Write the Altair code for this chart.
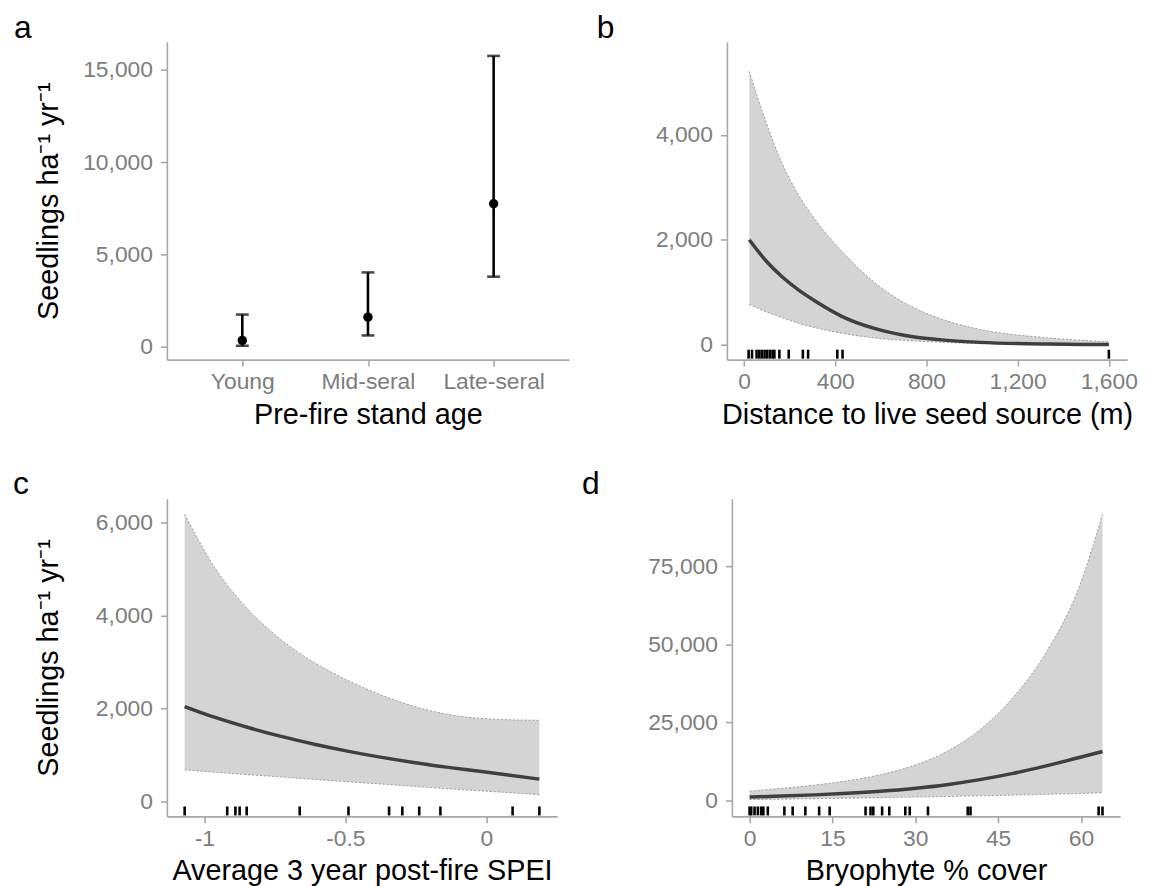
import altair as alt
import pandas as pd

# ---------------- data ----------------
# panel a
a_cats = ["Young", "Mid-seral", "Late-seral"]
a_mean = [350, 1610, 7750]
a_lo = [60, 620, 3800]
a_hi = [1750, 4030, 15750]

# panel b
b_x = [23, 96, 168, 240, 313, 458, 603, 748, 893, 1038, 1327, 1600]
b_mean = [2000, 1600, 1290, 1040, 830, 481, 272, 146, 82, 44, 12, 3]
b_hi = [5210, 4250, 3450, 2850, 2380, 1650, 1080, 700, 450, 290, 133, 57]
b_lo = [765, 630, 513, 405, 323, 196, 114, 70, 40, 19, 6, 2]
b_rug = [20, 35, 55, 67, 78, 90, 101, 113, 125, 133, 155, 196, 258, 281, 409, 432, 1600]

# panel c
c_x = [-1.07, -0.962, -0.845, -0.728, -0.61, -0.493, -0.376, -0.258, -0.141, -0.024, 0.188]
c_mean = [2043, 1808, 1592, 1400, 1232, 1085, 955, 840, 740, 650, 482]
c_hi = [6177, 5020, 4130, 3480, 2990, 2610, 2300, 2050, 1880, 1790, 1745]
c_lo = [681, 631, 578, 527, 477, 427, 377, 327, 278, 231, 149]
c_rug = [-1.07, -0.919, -0.89, -0.875, -0.85, -0.662, -0.489, -0.345, -0.298,
         -0.238, -0.163, 0.093, 0.188]

# panel d
d_x = [0, 5.7, 11.7, 17.7, 23.7, 29.7, 35.7, 41.7, 47.7, 53.7, 59.7, 63.9]
d_mean = [1140, 1450, 1830, 2330, 3000, 3900, 5100, 6700, 8700, 11100, 13800, 15700]
d_hi = [3040, 3900, 4950, 6350, 8300, 11200, 15700, 22700, 33000, 47500, 68500, 91650]
d_lo = [300, 450, 600, 760, 930, 1110, 1300, 1510, 1740, 1990, 2260, 2530]
d_rug = [0, 0.3, 0.9, 1.5, 2.1, 2.5, 3.3, 6.3, 7.8, 10.1, 12.6, 14.5, 21.0, 21.9,
         22.4, 24.0, 25.3, 28.2, 29.0, 32.3, 39.5, 40.0, 63.2, 63.9]

YTITLE = "Seedlings ha\u207b\u00b9 yr\u207b\u00b9"
FONT = "Liberation Sans"
LABEL_COLOR = "#7d7d7d"
AXIS_COLOR = "#a8a8a8"
LINE_COLOR = "#3f3f3f"
RIBBON = "#d4d4d4"
H = 320
NOFRAME = alt.ViewBackground(stroke="transparent", strokeWidth=0)


def axis(values, title, fmt=None, label_expr=None, ytitle_x=None, is_x=False):
    kw = dict(title=title, grid=False, domainColor=AXIS_COLOR,
              domainWidth=1.6, tickColor=AXIS_COLOR, tickWidth=1.6, tickSize=6.5,
              labelColor=LABEL_COLOR, labelFont=FONT, labelFontSize=23,
              labelPadding=5 if is_x else 8, titleFont=FONT, titleFontSize=29,
              titleFontWeight="normal", titleColor="black", labelAngle=0)
    if values is not None:
        kw["values"] = values
    if fmt is not None:
        kw["format"] = fmt
    if label_expr is not None:
        kw["labelExpr"] = label_expr
    if ytitle_x is not None:
        kw["titleX"] = ytitle_x
        kw["titleBaseline"] = "alphabetic"
    if is_x:
        kw["titleY"] = 64
        kw["titleBaseline"] = "alphabetic"
    return alt.Axis(**kw)


def letter(txt, lx, ly):
    return alt.Chart(pd.DataFrame({"t": [txt]})).mark_text(
        font=FONT, fontSize=32, align="left", baseline="alphabetic", color="black"
    ).encode(text="t:N", x=alt.value(lx), y=alt.value(ly))


def curve_panel(xs, mean, lo, hi, rug, xdom, ydom, xticks, yticks, width,
                xtitle, ytitle, lab, lx, ly, xfmt=None, xexpr=None):
    df = pd.DataFrame({"x": xs, "mean": mean, "lo": lo, "hi": hi})
    xsc = alt.Scale(domain=xdom, nice=False, zero=False)
    ysc = alt.Scale(domain=ydom, nice=False, zero=False)
    X = alt.X("x:Q", scale=xsc,
              axis=axis(xticks, xtitle, fmt=xfmt, label_expr=xexpr, is_x=True))
    yax = axis(yticks, ytitle, fmt=",d", ytitle_x=-110 if ytitle else None)
    base = alt.Chart(df)
    area = base.mark_area(color=RIBBON, opacity=1, interpolate="monotone").encode(
        x=X, y=alt.Y("lo:Q", scale=ysc, axis=yax), y2="hi:Q")
    up = base.mark_line(color="#8a8a8a", strokeWidth=0.8, strokeDash=[2, 2],
                        interpolate="monotone").encode(x="x:Q", y="hi:Q")
    dn = base.mark_line(color="#8a8a8a", strokeWidth=0.8, strokeDash=[2, 2],
                        interpolate="monotone").encode(x="x:Q", y="lo:Q")
    ln = base.mark_line(color=LINE_COLOR, strokeWidth=3.5,
                        interpolate="monotone").encode(x="x:Q", y="mean:Q")
    rg = alt.Chart(pd.DataFrame({"x": rug})).mark_rule(
        color="black", strokeWidth=2.6).encode(
        x="x:Q", y=alt.value(H - 10), y2=alt.value(H - 1))
    return alt.layer(area, up, dn, ln, rg, letter(lab, lx, ly)).properties(
        width=width, height=H, view=NOFRAME)


# ---- panel a ----
dfa = pd.DataFrame({"cat": a_cats, "mean": a_mean, "lo": a_lo, "hi": a_hi})
xa = alt.X("cat:N", sort=a_cats, scale=alt.Scale(type="point", padding=0.6),
           axis=axis(None, "Pre-fire stand age", is_x=True))
ysa = alt.Scale(domain=[-690, 16510], nice=False, zero=False)
ya_axis = axis([0, 5000, 10000, 15000], YTITLE, fmt=",d", ytitle_x=-110)
ba = alt.Chart(dfa)
bars = ba.mark_rule(color="black", strokeWidth=2.6).encode(
    x=xa, y=alt.Y("lo:Q", scale=ysa, axis=ya_axis), y2="hi:Q")
cap_lo = ba.mark_tick(color="black", orient="horizontal", size=13, thickness=2.6).encode(
    x=xa, y="lo:Q")
cap_hi = ba.mark_tick(color="black", orient="horizontal", size=13, thickness=2.6).encode(
    x=xa, y="hi:Q")
pts = ba.mark_circle(color="black", opacity=1, size=90).encode(x=xa, y="mean:Q")
pa = alt.layer(bars, cap_lo, cap_hi, pts, letter("a", -154, -4)).properties(
    width=405, height=H, view=NOFRAME)

pb = curve_panel(b_x, b_mean, b_lo, b_hi, b_rug, [-75, 1680], [-285, 5774],
                 [0, 400, 800, 1200, 1600], [0, 2000, 4000], 403,
                 "Distance to live seed source (m)", None, "b", -131, -4, xfmt=",d")
pc = curve_panel(c_x, c_mean, c_lo, c_hi, c_rug, [-1.133, 0.251], [-319, 6511],
                 [-1, -0.5, 0], [0, 2000, 4000, 6000], 393,
                 "Average 3 year post-fire SPEI", YTITLE, "c", -155, -5,
                 xexpr="'' + datum.value")
pd_ = curve_panel(d_x, d_mean, d_lo, d_hi, d_rug, [-3.2, 67.1], [-5063, 96614],
                  [0, 15, 30, 45, 60], [0, 25000, 50000, 75000], 391,
                  "Bryophyte % cover", None, "d", -151, -5)

row1 = alt.hconcat(pa, pb, spacing=159, bounds="flush")
row2 = alt.hconcat(pc, pd_, spacing=176, bounds="flush")
chart = alt.vconcat(row1, row2, spacing=39).properties(
    padding={"left": 5, "top": 1, "right": 5, "bottom": 2}
).configure_view(stroke="transparent", strokeWidth=0).configure(background="white")

chart.save("out.html", embed_options={"renderer": "svg", "actions": False})
